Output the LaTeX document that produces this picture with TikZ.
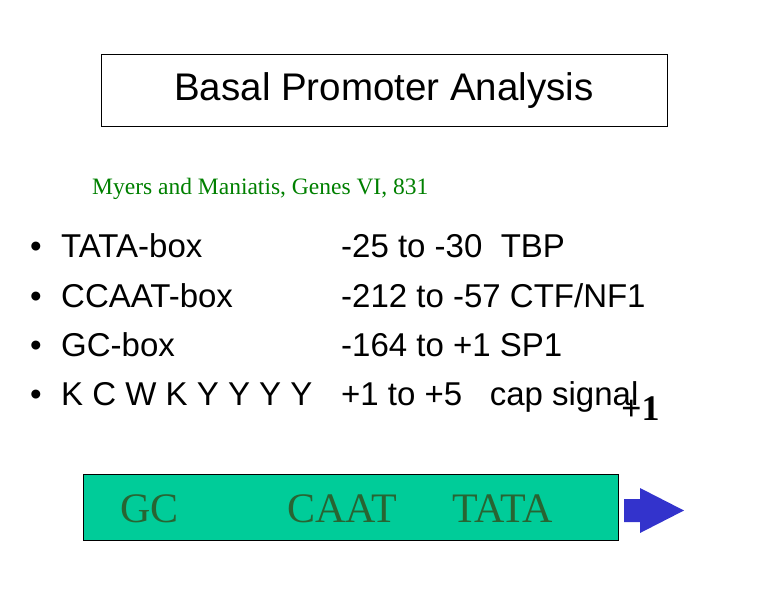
\documentclass[tikz,border=0pt]{standalone}
\usepackage{fontspec}
\setmainfont{Liberation Serif}
\newfontfamily\arial{Liberation Sans}
\definecolor{boxgreen}{RGB}{0,204,153}
\definecolor{citegreen}{RGB}{0,128,0}
\definecolor{txtgreen}{RGB}{40,100,50}
\definecolor{arrowblue}{RGB}{51,51,204}
\begin{document}
\begin{tikzpicture}[x=1pt,y=-1pt,
  item/.style={anchor=base west,inner sep=0pt,font=\arial\fontsize{33}{34}\selectfont},
  boxlab/.style={anchor=base west,inner sep=0pt,text=txtgreen,font=\fontsize{42}{44}\selectfont}]
\useasboundingbox (0,0) rectangle (763,595);
\node[draw,minimum width=566,minimum height=72,anchor=north west,inner sep=0pt,line width=0.6pt] (title) at (101,54) {};
\node[font=\arial\fontsize{38.5}{40}\selectfont] (tt) at (384,91) {Basal Promoter Analysis};
\node[anchor=base west,inner sep=0pt,text=citegreen,font=\fontsize{23.5}{25}\selectfont] (cite) at (92,194) {Myers and Maniatis, Genes VI, 831};
\foreach \y/\a/\b [count=\i] in {257/TATA-box/{-25 to -30\ \ TBP},307/CCAAT-box/{-212 to -57 CTF/NF1},356/GC-box/{-164 to +1 SP1},405/K C W K Y Y Y Y/{+1 to +5 \ \ cap signal}}{
  \node[item] (bul\i) at (30,\y) {•};
  \node[item] (a\i) at (61,\y) {\a};
  \node[item] (b\i) at (341,\y) {\b};
}
\node[anchor=base west,inner sep=0pt,font=\bfseries\fontsize{36}{36}\selectfont] (plus) at (621,420) {+1};
\node[draw,fill=boxgreen,line width=1pt,minimum width=535,minimum height=66,anchor=north west,inner sep=0pt] (box) at (83,474) {};
\node[boxlab] (gc) at (120,522) {GC};
\node[boxlab] (caat) at (287,522) {CAAT};
\node[boxlab] (tata) at (452,522) {TATA};
\fill[arrowblue] (624,499) -- (640,499) -- (640,488) -- (684,510.5) -- (640,533) -- (640,522) -- (624,522) -- cycle;
\end{tikzpicture}
\end{document}
